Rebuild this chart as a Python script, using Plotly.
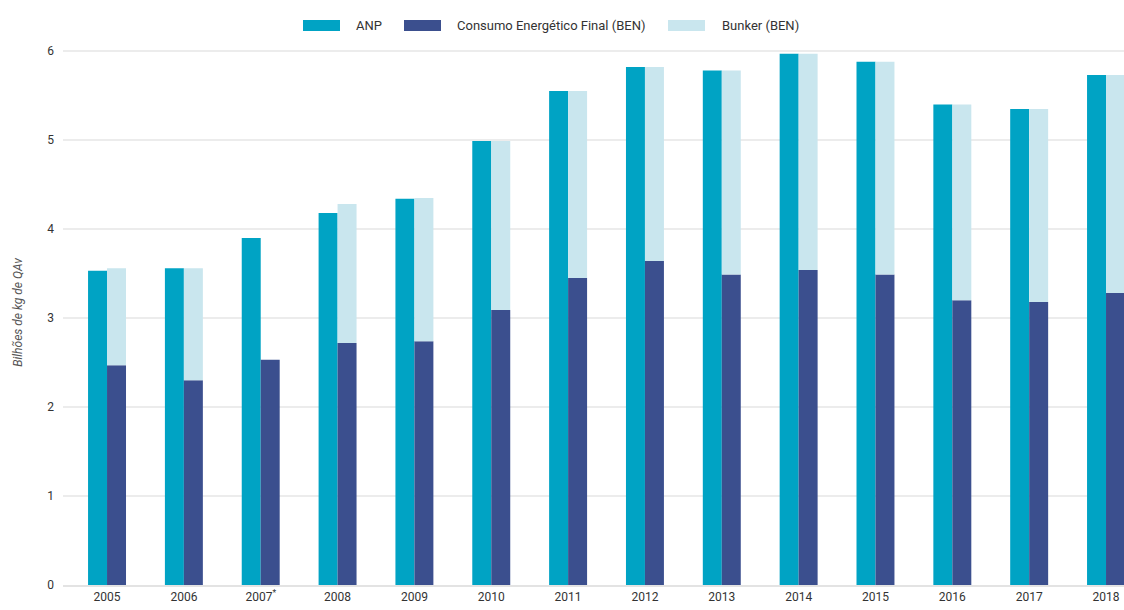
import plotly.graph_objects as go

years = ["2005", "2006", "2007<sup>*</sup>", "2008", "2009", "2010", "2011", "2012",
         "2013", "2014", "2015", "2016", "2017", "2018"]
anp = [3.53, 3.56, 3.90, 4.18, 4.34, 4.99, 5.55, 5.82, 5.78, 5.97, 5.88, 5.40, 5.35, 5.73]
consumo = [2.47, 2.30, 2.53, 2.72, 2.74, 3.09, 3.45, 3.64, 3.49, 3.54, 3.49, 3.20, 3.18, 3.28]
total_ben = [3.56, 3.56, 2.53, 4.28, 4.35, 4.99, 5.55, 5.82, 5.78, 5.97, 5.88, 5.40, 5.35, 5.73]
bunker = [round(t - c, 3) for t, c in zip(total_ben, consumo)]

C_ANP = "#00a3c4"
C_CON = "#3b4f8e"
C_BUN = "#c9e6ee"
W = 0.247

fig = go.Figure()
fig.add_trace(go.Bar(x=years, y=anp, name="ANP", marker_color=C_ANP,
                     width=W, offset=-W, marker_line_width=0))
fig.add_trace(go.Bar(x=years, y=consumo, name="Consumo Energético Final (BEN)",
                     marker_color=C_CON, width=W, offset=0, marker_line_width=0))
fig.add_trace(go.Bar(x=years, y=bunker, base=consumo, name="Bunker (BEN)",
                     marker_color=C_BUN, width=W, offset=0, marker_line_width=0))

font = "Roboto, 'DejaVu Sans', sans-serif"

PL, PT, PW, PH = 63, 40, 1061, 545  # plot area in window pixels

legend_items = [("ANP", C_ANP, 303, 354), ("Consumo Energético Final (BEN)", C_CON, 404, 455),
                ("Bunker (BEN)", C_BUN, 668, 720)]
shapes = []
annotations = []
for label, col, sx, tx in legend_items:
    shapes.append(dict(type="rect", xref="paper", yref="paper",
                       x0=(sx - PL) / PW, x1=(sx + 37 - PL) / PW,
                       y0=(PT + PH - 31) / PH, y1=(PT + PH - 20) / PH,
                       fillcolor=col, line_width=0, layer="above"))
    annotations.append(dict(xref="paper", yref="paper", x=(tx - PL) / PW,
                            y=(PT + PH - 25.5) / PH, text=label, showarrow=False,
                            xanchor="left", yanchor="middle",
                            font=dict(family=font, size=13, color="#333333")))

fig.update_layout(
    width=1124, height=610,
    margin=dict(l=PL, r=0, t=PT, b=25),
    barmode="overlay",
    plot_bgcolor="white", paper_bgcolor="white",
    showlegend=False,
    shapes=shapes, annotations=annotations,
    font=dict(family=font, size=12, color="#333333"),
    xaxis=dict(type="category", range=[-0.573, 13.234], showgrid=False,
               showline=True, linecolor="#e3e3e3", linewidth=2, ticks="",
               tickfont=dict(size=12, color="#333333")),
    yaxis=dict(range=[0, 6.124], tickvals=[0, 1, 2, 3, 4, 5, 6], showgrid=True,
               gridcolor="#ececec", gridwidth=2, zeroline=False, ticks="",
               ticklabelstandoff=8,
               tickfont=dict(size=12, color="#333333"),
               title=dict(text="<i>Bilhões de kg de QAv</i>", standoff=22,
                          font=dict(size=12, color="#555555"))),
)

fig.write_html("out.html",
               config={"displayModeBar": False},
               post_script="document.body.style.margin='0';"
                           "document.body.style.overflow='hidden';")
